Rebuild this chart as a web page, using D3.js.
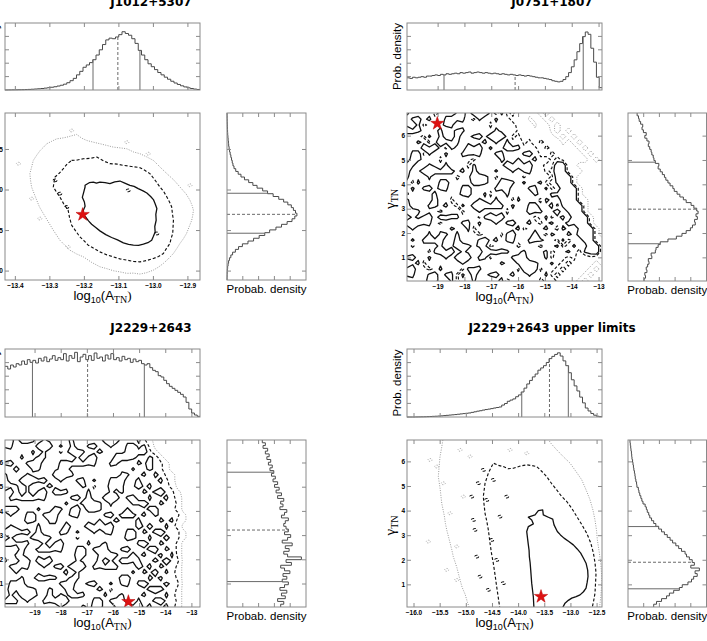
<!DOCTYPE html>
<html><head><meta charset="utf-8">
<script src="https://cdn.jsdelivr.net/npm/d3@7"></script>
<style>body{margin:0;background:#fff}svg{display:block}</style>
</head><body>
<svg id="c" width="707" height="641"></svg>
<script>
// ---------------- DATA ----------------
const titles = ["J1012+5307", "J0751+1807", "J2229+2643", "J2229+2643 upper limits"];

// Panel A : J1012+5307
const aXDomain = [-13.43, -12.865];
const aYDomain = [1.89, 3.95];
const aXTicks = [-13.4, -13.3, -13.2, -13.1, -13.0, -12.9];
const aYTicks = [2.0, 2.5, 3.0, 3.5];
const aTopHist = [0.1,0.2,0.3,0.4,0.5,0.6,0.8,1,1.3,1.7, 2.1,2.6,3.2,3.9,4.7,5.6,6.8,8.2,10,12.5,
  16,20,26,32,39,43,47,52,60,69, 78,86,89,88,91,95,100,97,94,88,
  80,68,60,52,45,40,35,30,26,22, 18.5,15,12,9.5,7.2,5.3,3.8,2.6,1.6,0.9];
const aRightHist = [0.1,0.2,0.3,0.5,0.9,1.5,2.3,3.5,5.5,8, 12,16.5,22,30,38,46,54,61,70,78,
  86,93,97,100,98,95,92,87,81,74, 66,58,51,43,37,31,25,20,16,12.5,
  10,8.5,7.5,6.5,5.5,4.5,3.7,3,2.4,2, 1.6,1.3,1,0.8,0.6,0.5,0.4,0.3,0.2,0.1];
const aXQuant = [-13.175, -13.103, -13.039];
const aYQuant = [2.467, 2.70, 2.96];
const aStar = [-13.205, 2.697];
const aSolid = [[-13.198,3.058],[-13.186,3.09],[-13.174,3.098],[-13.165,3.085],[-13.155,3.098],[-13.14,3.09],[-13.126,3.079],[-13.112,3.10],[-13.097,3.111],[-13.083,3.085],[-13.068,3.058],[-13.056,3.045],[-13.044,3.017],[-13.03,2.99],[-13.019,2.963],[-13.008,2.92],[-13.0,2.882],[-12.995,2.83],[-12.99,2.771],[-12.993,2.70],[-12.992,2.627],[-12.996,2.55],[-12.995,2.483],[-13.0,2.43],[-13.005,2.381],[-13.016,2.35],[-13.029,2.332],[-13.043,2.318],[-13.058,2.320],[-13.072,2.33],[-13.087,2.348],[-13.104,2.385],[-13.121,2.414],[-13.138,2.45],[-13.155,2.496],[-13.168,2.54],[-13.179,2.578],[-13.188,2.62],[-13.195,2.660],[-13.205,2.70],[-13.203,2.750],[-13.198,2.80],[-13.200,2.852],[-13.206,2.91],[-13.203,2.956],[-13.198,3.037]];
const aDashed = [[-13.237,3.365],[-13.22,3.37],[-13.203,3.386],[-13.184,3.39],[-13.164,3.406],[-13.145,3.36],[-13.126,3.325],[-13.105,3.32],[-13.087,3.304],[-13.063,3.29],[-13.039,3.276],[-13.024,3.24],[-13.010,3.202],[-12.995,3.12],[-12.981,3.037],[-12.97,2.98],[-12.961,2.914],[-12.953,2.85],[-12.947,2.791],[-12.945,2.71],[-12.942,2.627],[-12.943,2.55],[-12.944,2.464],[-12.949,2.40],[-12.952,2.341],[-12.962,2.28],[-12.971,2.218],[-12.985,2.18],[-13.0,2.156],[-13.02,2.13],[-13.039,2.114],[-13.058,2.12],[-13.077,2.135],[-13.097,2.15],[-13.116,2.176],[-13.135,2.20],[-13.155,2.237],[-13.172,2.28],[-13.189,2.320],[-13.20,2.37],[-13.213,2.422],[-13.226,2.50],[-13.237,2.566],[-13.243,2.66],[-13.247,2.750],[-13.26,2.83],[-13.271,2.914],[-13.28,2.97],[-13.290,3.037],[-13.288,3.10],[-13.285,3.160],[-13.272,3.21],[-13.261,3.263],[-13.25,3.32]];
const aDotted = [[-13.309,3.571],[-13.295,3.60],[-13.280,3.632],[-13.265,3.64],[-13.251,3.652],[-13.236,3.67],[-13.222,3.685],[-13.208,3.64],[-13.193,3.611],[-13.174,3.59],[-13.155,3.571],[-13.135,3.55],[-13.116,3.529],[-13.097,3.52],[-13.077,3.509],[-13.058,3.47],[-13.039,3.448],[-13.02,3.41],[-13.0,3.365],[-12.98,3.28],[-12.961,3.202],[-12.94,3.12],[-12.923,3.037],[-12.905,2.95],[-12.894,2.873],[-12.888,2.81],[-12.884,2.750],[-12.886,2.69],[-12.889,2.627],[-12.897,2.54],[-12.904,2.464],[-12.913,2.40],[-12.923,2.341],[-12.932,2.28],[-12.942,2.218],[-12.957,2.15],[-12.971,2.095],[-12.985,2.05],[-13.0,2.012],[-13.02,1.98],[-13.039,1.963],[-13.058,1.975],[-13.077,1.972],[-13.097,1.99],[-13.116,2.004],[-13.135,2.03],[-13.155,2.053],[-13.18,2.11],[-13.203,2.176],[-13.222,2.21],[-13.242,2.258],[-13.257,2.32],[-13.271,2.381],[-13.28,2.44],[-13.290,2.504],[-13.305,2.61],[-13.319,2.710],[-13.33,2.79],[-13.338,2.873],[-13.346,2.96],[-13.353,3.037],[-13.356,3.12],[-13.358,3.202],[-13.353,3.28],[-13.348,3.365],[-13.338,3.43],[-13.328,3.488],[-13.318,3.53]];
const aDashedIslands = [[-13.285,3.119],[-13.251,2.791],[-13.073,2.996],[-12.99,2.464],[-13.271,2.956]];
const aDottedIslands = [[-13.391,3.325],[-13.353,2.894],[-13.329,2.648],[-13.237,3.734],[-13.077,3.590],[-13.015,3.448],[-12.894,3.058],[-13.247,2.299]];

// Panel B : J0751+1807
const bXDomain = [-20.16, -12.89];
const bYDomain = [0.05, 6.95];
const bXTicks = [-19, -18, -17, -16, -15, -14, -13];
const bYTicks = [1, 2, 3, 4, 5, 6];
const bTopHist = [21,20,22,21,22,23,22,24,24,25, 26,25,27,26,28,27,28,29,28,30,
  29,30,31,29,30,31,30,29,30,29, 28,29,28,27,28,27,26,27,26,25,
  26,25,24,25,24,23,22,21,21,20, 19,18,16,15,14,15,18,23,30,40,
  52,66,80,92,100,96,72,48,22,4];
const bRightHist = [23,25,24,27,26,28,30,29,34,33, 39,40,43,46,57,69,77,83,89,92,
  96,95,99,97,100,98,94,90,83,79, 74,70,66,64,60,57,54,52,49,46,
  43,44,39,37,36,34,33,31,29,30, 27,24,26,22,20,21,18,16,15,13];
const bXQuant = [-18.78, -16.13, -13.59];
const bYQuant = [1.58, 3.0, 4.93];
const bStar = [-19.03, 6.52];
const bGridExtent = [[-20.26, -12.79], [-0.05, 7.05]];
const bGrid = [
"645453454674767536342322121110100000",
"466564467664364464432312212101010000",
"546345566454545354543231321211101000",
"766545645664454465453322231212110100",
"454364654745665767534233322121211010",
"546535766645456464645342432312121101",
"454767536547674645766454243322212110",
"467364464466664466454665324332321211",
"566545354454354546546456453432322121",
"664465464453645545767674433882211111",
"745767676564654464464664534882221111",
"645464545345766535545354453788211111",
"536454674454766547664645634688211111",
"464665664467454466745466463478821111",
"354456454566546354645546546678821111",
"645547453545465464536454365478822111",
"654466564364767676464467456367882111",
"766454345535464545354566645746782111",
"465674766645536767454453463564788211",
"767664354466464464665564356456678211",
"464454546546354545456345564365467821",
"545464664645434453674547436546567821",
"464676745654467564664466654363456822",
"535545645766566345453454345634645782",
"454536767465547766645645563456436782",
"665464464767466354466654463543422322",
"456354545464454546546766546434323212",
"674434645536664454453767354343232121",
"664467466364745665564464463432321211",
"454566546354645456345545345323212110"];

// Panel C : J2229+2643
const cXDomain = [-20.15, -12.69];
const cYDomain = [0.05, 6.95];
const cXTicks = [-19, -18, -17, -16, -15, -14, -13];
const cYTicks = [1, 2, 3, 4, 5, 6];
const cTopHist = [76,72,78,75,80,78,84,79,86,82, 85,81,88,84,90,83,87,92,85,89,
  86,95,84,92,88,97,83,90,94,86, 92,85,96,88,90,84,93,87,95,86,
  89,84,91,86,88,82,87,83,85,80, 78,80,74,70,68,62,60,55,50,46,
  43,40,37,34,30,22,12,6,3,1];
const cRightHist = [70,74,66,76,71,78,69,75,80,72, 78,73,82,75,70,84,77,97,79,74,
  81,76,85,72,79,83,75,80,77,74, 76,80,71,75,78,69,73,70,74,66,
  71,64,68,62,66,60,63,58,61,56, 59,54,57,52,55,50,53,47,50,46];
const cXQuant = [-19.10, -16.99, -14.82];
const cYQuant = [1.1, 3.23, 5.62];
const cStar = [-15.43, 0.27];
const cGridExtent = [[-20.25, -12.59], [-0.05, 7.05]];
const cGrid = [
"674766465545645454767454642100000000",
"664454767464654665464467563100000000",
"454546464535766456545566674210000000",
"454645664454464674547766546521000000",
"665466745467676664466454657442100000",
"456546645566545454454546456542100000",
"645465454767645545454664564653210000",
"654767665464466464467745645564210000",
"766464456545546535566645756454310000",
"547464674766454645465645465675421000",
"466676664454665654767466546456431000",
"454545454546456766464546675465531000",
"767454645664674766454464456745431000",
"464467466745664454665676564654542100",
"545566546645454546456545645465632100",
"465454645547545767674454756546431000",
"767665654466464464664467465675542100",
"464456766454535545454566546456542100",
"766664464674454645645454675465531000",
"454745676664467466654665456746531000",
"546645545454566546766456564564631000",
"645674767454465547464766645657541000",
"466664464665767466676454756465531000",
"546454545456464454545546465746431000",
"454645766645664454545674546564531000",
"467654454466745665464664675456541000",
"566766546546645456535454456765531000",
"464767547465766454645645564546431000",
"676464466767454467466654645675531000",
"545545454464546566546766756456431000"];

// Panel D : J2229+2643 upper limits
const dXDomain = [-16.134, -12.406];
const dYDomain = [0.10, 6.89];
const dXTicks = [-16.0, -15.5, -15.0, -14.5, -14.0, -13.5, -13.0, -12.5];
const dYTicks = [1, 2, 3, 4, 5, 6];
const dTopHist = [0,0,0,0.1,0.2,0.3,0.4,0.6,0.8,1, 1.2,1.5,1.8,2.2,2.6,3,3.4,3.8,4.3,4.8,
  5.3,5.8,6.3,7.2,8.1,9.1,9.8,10.8,11.6,12.3, 13.1,14,14.8,15.6,18.6,21,24.5,26.4,28.2,31.6,
  34.4,39,45,51.5,57,62.5,67,73,76.5,80, 85,91,94.5,97.5,100,95,87.5,80,69,58,
  48.5,40.6,31,22,14,9.4,5.5,2.8,1.2,0.5];
const dRightHist = [36,40,47,54,58,64,72,76,84,89, 92,97,94,100,88,93,90,86,82,80,
  75,71,67,62.5,59,55,51,47,43,39, 36,33,30.5,29,27,25.7,24,21,19.4,18,
  16.5,15.3,14.5,12.5,12,11,10.2,9.7,9,8.2, 7.6,7,6.4,5.6,5.2,4.8,4.2,3.8,3.2,2.8];
const dXQuant = [-13.94, -13.41, -13.05];
const dYQuant = [0.84, 1.92, 3.37];
const dStar = [-13.572, 0.524];
const dSolid = [[-13.706,0.0],[-13.719,0.524],[-13.735,0.8],[-13.75,1.069],[-13.76,1.35],[-13.769,1.61],[-13.78,1.9],[-13.795,2.15],[-13.80,2.4],[-13.814,2.626],[-13.83,2.9],[-13.845,3.167],[-13.814,3.37],[-13.719,3.48],[-13.75,3.64],[-13.814,3.75],[-13.686,3.846],[-13.623,4.02],[-13.54,4.05],[-13.528,3.846],[-13.432,3.75],[-13.348,3.67],[-13.323,3.44],[-13.26,3.17],[-13.2,3.03],[-13.132,2.90],[-13.04,2.76],[-12.954,2.626],[-12.88,2.46],[-12.813,2.29],[-12.76,2.08],[-12.711,1.88],[-12.68,1.6],[-12.673,1.34],[-12.69,1.1],[-12.711,0.866],[-12.76,0.72],[-12.826,0.593],[-12.9,0.52],[-12.985,0.459],[-13.05,0.37],[-13.113,0.256],[-13.176,0.0]];
const dDashed = [[-14.356,0.0],[-14.39,0.5],[-14.42,0.93],[-14.45,1.4],[-14.484,1.88],[-14.52,2.3],[-14.547,2.70],[-14.579,3.24],[-14.61,3.6],[-14.642,3.91],[-14.66,4.25],[-14.675,4.59],[-14.642,5.13],[-14.579,5.54],[-14.484,5.95],[-14.39,5.86],[-14.293,5.81],[-14.2,5.72],[-14.101,5.74],[-13.97,5.83],[-13.845,5.88],[-13.75,5.85],[-13.654,5.81],[-13.56,5.62],[-13.463,5.40],[-13.37,5.12],[-13.272,4.86],[-13.18,4.6],[-13.08,4.39],[-12.98,4.1],[-12.889,3.78],[-12.79,3.44],[-12.698,3.10],[-12.62,2.7],[-12.57,2.29],[-12.54,1.9],[-12.52,1.48],[-12.53,1.05],[-12.54,0.66],[-12.57,0.3],[-12.602,0.0]];
const dDottedLeft = [[-14.929,0.0],[-14.98,0.3],[-15.02,0.6],[-15.08,0.9],[-15.12,1.20],[-15.18,1.7],[-15.249,2.15],[-15.28,2.45],[-15.31,2.7],[-15.375,3.24],[-15.40,3.5],[-15.42,3.8],[-15.47,4.32],[-15.50,4.9],[-15.535,5.40],[-15.52,5.8],[-15.503,6.21],[-15.47,6.6],[-15.44,7.0]];
const dDottedRight = [[-13.463,7.0],[-13.37,6.72],[-13.272,6.49],[-13.14,6.2],[-13.017,5.95],[-12.9,5.6],[-12.793,5.27],[-12.71,4.86],[-12.635,4.46],[-12.58,4.05],[-12.54,3.64],[-12.51,3.2],[-12.495,2.83],[-12.46,2.35],[-12.43,1.88],[-12.415,1.45],[-12.41,1.07],[-12.43,0.5],[-12.457,0.0]];
const dDashedIslands = [[-14.866,3.642],[-14.834,3.236],[-14.61,4.455],[-14.801,2.15],[-14.484,5.268],[-14.356,3.776],[-14.738,1.337],[-14.515,2.829],[-14.293,1.069],[-14.897,4.589],[-14.675,5.675],[-14.419,2.016],[-14.228,4.589],[-14.771,5.134],[-14.579,0.797]];
const dDottedIslands = [[-15.694,6.08],[-15.726,2.76],[-15.566,5.81],[-15.44,5.13],[-15.312,3.91],[-15.184,2.56],[-15.12,6.49],[-14.929,6.22],[-15.057,4.59],[-15.375,1.61],[-14.164,6.49],[-13.845,6.35],[-15.184,1.2]];

const contourLevels = [1.5, 3.5, 5.5]; // dotted, dashed, solid

// ---------------- LAYOUT / STYLE ----------------
const LAYOUT = [
  {hx0:5,   hx1:200, ty0:23,  ty1:90,  my0:113, my1:280, rx0:227, rx1:306,   titleX:151},
  {hx0:407, hx1:602, ty0:23,  ty1:90,  my0:113, my1:281, rx0:628, rx1:706.5, titleX:552},
  {hx0:5,   hx1:200, ty0:349, ty1:417, my0:440, my1:607, rx0:227, rx1:306,   titleX:151},
  {hx0:407, hx1:602, ty0:349, ty1:417, my0:440, my1:607, rx0:628, rx1:706.5, titleX:552}
];
const FRAME = "#8a8a8a", HIST = "#4a4a4a", QLINE = "#6a6a6a";
const SANS = "'Liberation Sans', Arial, sans-serif";
const SERIF = "'Liberation Serif', 'DejaVu Serif', serif";
const STYLE = {
  solid:  {stroke:"#111", width:1.3, dash:null},
  dashed: {stroke:"#111", width:1.15, dash:"3,2"},
  dotted: {stroke:"#9c9c9c", width:1.0, dash:"1,1.4"}
};

const PANELS = [
  {title:titles[0], xDomain:aXDomain, yDomain:aYDomain, xTicks:aXTicks, yTicks:aYTicks, xFmt:".1f", yFmt:".1f",
   top:aTopHist, topMax:115, right:aRightHist, rightMax:113, xq:aXQuant, yq:aYQuant, star:aStar,
   lines:[{pts:aDotted, s:"dotted", closed:true},{pts:aDashed, s:"dashed", closed:true},{pts:aSolid, s:"solid", closed:true}],
   islands:[{pts:aDottedIslands, s:"dotted"},{pts:aDashedIslands, s:"dashed"}]},
  {title:titles[1], xDomain:bXDomain, yDomain:bYDomain, xTicks:bXTicks, yTicks:bYTicks, xFmt:"d", yFmt:"d",
   top:bTopHist, topMax:115.5, right:bRightHist, rightMax:112, xq:bXQuant, yq:bYQuant, star:bStar,
   grid:bGrid, gridExtent:bGridExtent},
  {title:titles[2], xDomain:cXDomain, yDomain:cYDomain, xTicks:cXTicks, yTicks:cYTicks, xFmt:"d", yFmt:"d",
   top:cTopHist, topMax:102, right:cRightHist, rightMax:103, xq:cXQuant, yq:cYQuant, star:cStar,
   grid:cGrid, gridExtent:cGridExtent},
  {title:titles[3], xDomain:dXDomain, yDomain:dYDomain, xTicks:dXTicks, yTicks:dYTicks, xFmt:".1f", yFmt:"d",
   top:dTopHist, topMax:106, right:dRightHist, rightMax:110, xq:dXQuant, yq:dYQuant, star:dStar,
   lines:[{pts:dDottedLeft, s:"dotted"},{pts:dDottedRight, s:"dotted"},{pts:dDashed, s:"dashed"},{pts:dSolid, s:"solid"}],
   islands:[{pts:dDottedIslands, s:"dotted"},{pts:dDashedIslands, s:"dashed"}]}
];

// ---------------- DRAW ----------------
const svg = d3.select("#c");
const defs = svg.append("defs");

function styleLine(sel, s) {
  const st = STYLE[s];
  sel.attr("fill", "none").attr("stroke", st.stroke).attr("stroke-width", st.width)
     .attr("stroke-linejoin", "round");
  if (st.dash) sel.attr("stroke-dasharray", st.dash);
  return sel;
}
function frame(g, x0, x1, y0, y1) {
  g.append("rect").attr("x", x0).attr("y", y0).attr("width", x1 - x0).attr("height", y1 - y0)
   .attr("fill", "none").attr("stroke", FRAME).attr("stroke-width", 1);
}
function xTickMarks(g, xs, ticks, y0, y1) {
  ticks.forEach(t => {
    const px = xs(t);
    g.append("line").attr("x1", px).attr("x2", px).attr("y1", y1).attr("y2", y1 - 4).attr("stroke", FRAME);
    g.append("line").attr("x1", px).attr("x2", px).attr("y1", y0).attr("y2", y0 + 4).attr("stroke", FRAME);
  });
}
function yTickMarks(g, ys, ticks, x0, x1) {
  ticks.forEach(t => {
    const py = ys(t);
    g.append("line").attr("x1", x0).attr("x2", x0 + 4).attr("y1", py).attr("y2", py).attr("stroke", FRAME);
    g.append("line").attr("x1", x1).attr("x2", x1 - 4).attr("y1", py).attr("y2", py).attr("stroke", FRAME);
  });
}

PANELS.forEach((P, k) => {
  const L = LAYOUT[k];
  const g = svg.append("g");
  const x = d3.scaleLinear().domain(P.xDomain).range([L.hx0, L.hx1]);
  const y = d3.scaleLinear().domain(P.yDomain).range([L.my1, L.my0]);
  const ht = d3.scaleLinear().domain([0, P.topMax]).range([L.ty1, L.ty0]);
  const hr = d3.scaleLinear().domain([0, P.rightMax]).range([L.rx0, L.rx1]);

  g.append("text").attr("x", L.titleX).attr("y", L.ty0 - 17).attr("text-anchor", "middle")
    .style("font-family", "'DejaVu Sans', sans-serif").style("font-weight", "bold").style("font-size", "12px")
    .text(P.title);

  // ---- top histogram ----
  const topBW = (P.xDomain[1] - P.xDomain[0]) / P.top.length;
  const topPts = [];
  P.top.forEach((v, i) => {
    topPts.push([x(P.xDomain[0] + i * topBW), ht(v)]);
    topPts.push([x(P.xDomain[0] + (i + 1) * topBW), ht(v)]);
  });
  g.append("path").attr("d", d3.line()(topPts)).attr("fill", "none").attr("stroke", HIST).attr("stroke-width", 1);
  P.xq.forEach((q, i) => {
    const bi = Math.min(P.top.length - 1, Math.floor((q - P.xDomain[0]) / topBW));
    g.append("line").attr("x1", x(q)).attr("x2", x(q)).attr("y1", L.ty1).attr("y2", ht(P.top[bi]))
      .attr("stroke", QLINE).attr("stroke-width", 1).attr("stroke-dasharray", i === 1 ? "3,2" : null);
  });
  frame(g, L.hx0, L.hx1, L.ty0, L.ty1);
  xTickMarks(g, x, P.xTicks, L.ty0, L.ty1);
  yTickMarks(g, ht, [1, 2, 3, 4].map(j => P.topMax * j / 5), L.hx0, L.hx1);
  g.append("text").attr("transform", `translate(${L.hx0 - 6},${(L.ty0 + L.ty1) / 2}) rotate(-90)`)
    .attr("text-anchor", "middle").style("font-family", SANS).style("font-size", "11.5px").text("Prob. density");

  // ---- main contour panel ----
  const clipId = "clip" + k;
  defs.append("clipPath").attr("id", clipId).append("rect")
    .attr("x", L.hx0).attr("y", L.my0).attr("width", L.hx1 - L.hx0).attr("height", L.my1 - L.my0);
  const cg = g.append("g").attr("clip-path", `url(#${clipId})`);

  if (P.grid) {
    const n = P.grid[0].length, m = P.grid.length;
    const values = P.grid.join("").split("").map(Number);
    const cs = d3.contours().size([n, m]).thresholds(contourLevels)(values);
    const gx = d3.scaleLinear().domain([0, n]).range(P.gridExtent[0]);
    const gy = d3.scaleLinear().domain([0, m]).range([P.gridExtent[1][1], P.gridExtent[1][0]]);
    const proj = d3.geoTransform({ point(px, py) { this.stream.point(x(gx(px)), y(gy(py))); } });
    const path = d3.geoPath(proj);
    const names = ["dotted", "dashed", "solid"];
    cs.forEach((c, i) => styleLine(cg.append("path").attr("d", path(c)), names[i]));
  }
  if (P.lines) {
    P.lines.forEach(Ln => {
      const line = d3.line().x(d => x(d[0])).y(d => y(d[1]))
        .curve(Ln.closed ? d3.curveLinearClosed : d3.curveLinear);
      styleLine(cg.append("path").attr("d", line(Ln.pts)), Ln.s);
    });
  }
  if (P.islands) {
    P.islands.forEach(I => {
      I.pts.forEach(p => {
        styleLine(cg.append("ellipse").attr("cx", x(p[0])).attr("cy", y(p[1])).attr("rx", 2.0).attr("ry", 1.4), I.s)
          .attr("stroke-width", STYLE[I.s].width * 0.9);
      });
    });
  }
  cg.append("path").attr("d", d3.symbol().type(d3.symbolStar).size(55)())
    .attr("transform", `translate(${x(P.star[0])},${y(P.star[1])})`)
    .attr("fill", "#dd1111").attr("stroke", "#b00").attr("stroke-width", 0.5);

  frame(g, L.hx0, L.hx1, L.my0, L.my1);
  xTickMarks(g, x, P.xTicks, L.my0, L.my1);
  yTickMarks(g, y, P.yTicks, L.hx0, L.hx1);
  const xf = d3.format(P.xFmt), yf = d3.format(P.yFmt);
  P.xTicks.forEach(t => g.append("text").attr("x", x(t)).attr("y", L.my1 + 8).attr("text-anchor", "middle")
    .style("font-family", SANS).style("font-weight", "bold").style("font-size", "6.5px").text(xf(t)));
  P.yTicks.forEach(t => g.append("text").attr("x", L.hx0 - 2).attr("y", y(t)).attr("dy", "0.35em")
    .attr("text-anchor", "end").style("font-family", SANS).style("font-weight", "bold").style("font-size", "6.5px").text(yf(t)));

  const xl = g.append("text").attr("x", (L.hx0 + L.hx1) / 2).attr("y", L.my1 + 20).attr("text-anchor", "middle")
    .style("font-family", SANS).style("font-size", "13px");
  xl.append("tspan").text("log");
  xl.append("tspan").attr("dy", 3).style("font-size", "9px").text("10");
  xl.append("tspan").attr("dy", -3).text("(A");
  xl.append("tspan").attr("dy", 3).style("font-size", "10px").style("font-family", SERIF).text("TN");
  xl.append("tspan").attr("dy", -3).style("font-family", SERIF).text(")");

  const yl = g.append("text").attr("transform", `translate(${L.hx0 - 12},${(L.my0 + L.my1) / 2 + 2}) rotate(-90)`)
    .attr("text-anchor", "middle").style("font-family", SERIF).style("font-size", "15px");
  yl.append("tspan").text("γ");
  yl.append("tspan").attr("dy", 3).style("font-size", "10px").text("TN");

  // ---- right histogram ----
  const rBW = (P.yDomain[1] - P.yDomain[0]) / P.right.length;
  const rPts = [];
  P.right.forEach((v, i) => {
    rPts.push([hr(v), y(P.yDomain[0] + i * rBW)]);
    rPts.push([hr(v), y(P.yDomain[0] + (i + 1) * rBW)]);
  });
  g.append("path").attr("d", d3.line()(rPts)).attr("fill", "none").attr("stroke", HIST).attr("stroke-width", 1);
  P.yq.forEach((q, i) => {
    const bi = Math.min(P.right.length - 1, Math.floor((q - P.yDomain[0]) / rBW));
    g.append("line").attr("x1", L.rx0).attr("x2", hr(P.right[bi])).attr("y1", y(q)).attr("y2", y(q))
      .attr("stroke", QLINE).attr("stroke-width", 1).attr("stroke-dasharray", i === 1 ? "3,2" : null);
  });
  frame(g, L.rx0, L.rx1, L.my0, L.my1);
  xTickMarks(g, hr, [1, 2, 3, 4].map(j => P.rightMax * j / 5), L.my0, L.my1);
  yTickMarks(g, y, P.yTicks, L.rx0, L.rx1);
  g.append("text").attr("x", (L.rx0 + L.rx1) / 2).attr("y", L.my1 + 13).attr("text-anchor", "middle")
    .style("font-family", SANS).style("font-size", "11.5px").text("Probab. density");
});
</script>
</body></html>
